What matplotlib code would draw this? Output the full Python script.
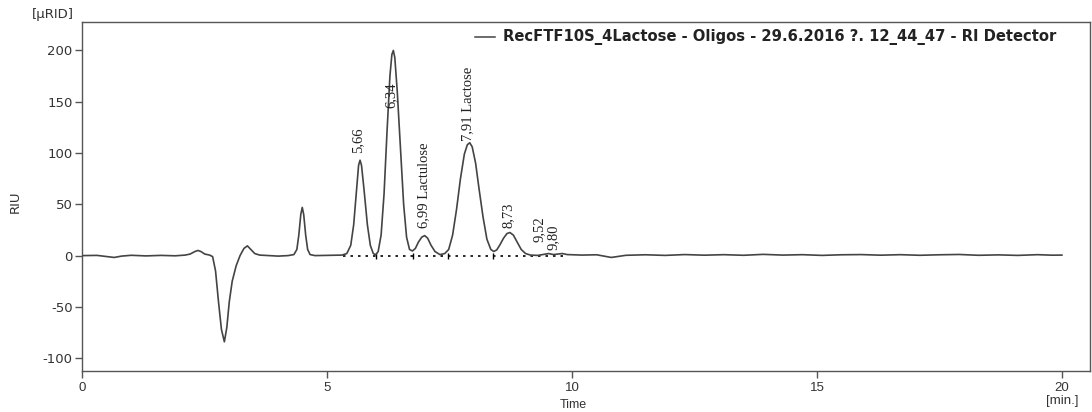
import matplotlib
matplotlib.use('Agg')
import matplotlib.pyplot as plt

# RI detector trace (time in min, signal in uRIU)
time = [0.00, 0.30, 0.50, 0.65, 0.80, 1.00, 1.30, 1.60, 1.90, 2.10, 2.20,
        2.30, 2.36, 2.42, 2.50, 2.60, 2.66, 2.72, 2.78, 2.84, 2.90, 2.95,
        3.00, 3.06, 3.14, 3.22, 3.30, 3.37, 3.44, 3.52, 3.62, 3.80, 4.00,
        4.20, 4.32, 4.38, 4.42, 4.46, 4.49, 4.52, 4.56, 4.60, 4.65, 4.75,
        5.00, 5.30, 5.40, 5.48, 5.54, 5.60, 5.64, 5.67, 5.70, 5.75, 5.82,
        5.88, 5.94, 5.99, 6.04, 6.10, 6.16, 6.22, 6.28, 6.32, 6.35, 6.38,
        6.43, 6.50, 6.56, 6.62, 6.68, 6.74, 6.80, 6.86, 6.93, 6.99, 7.05,
        7.12, 7.20, 7.30, 7.40, 7.48, 7.56, 7.64, 7.72, 7.80, 7.86, 7.91,
        7.96, 8.03, 8.10, 8.18, 8.26, 8.34, 8.40, 8.46, 8.52, 8.60, 8.67,
        8.73, 8.80, 8.88, 8.96, 9.05, 9.15, 9.30, 9.45, 9.52, 9.62, 9.72,
        9.80, 9.90, 10.2, 10.5, 10.8, 11.1, 11.5, 11.9, 12.3, 12.7, 13.1,
        13.5, 13.9, 14.3, 14.7, 15.1, 15.5, 15.9, 16.3, 16.7, 17.1, 17.5,
        17.9, 18.3, 18.7, 19.1, 19.5, 19.8, 20.0]
signal = [0.0, 0.2, -1.0, -1.8, -0.5, 0.3, -0.3, 0.2, -0.2, 0.5, 1.5,
          4.0, 5.0, 4.0, 1.5, 0.5, -1.0, -15, -45, -72, -84, -70,
          -45, -25, -10, 0, 7, 9.5, 6, 2, 0.5, 0, -0.5,
          0, 1, 6, 20, 40, 47, 40, 20, 6, 1, 0,
          0.2, 0.5, 2, 10, 30, 65, 88, 93, 88, 65, 30,
          10, 2, 0.8, 4, 20, 60, 120, 175, 196, 200, 193,
          160, 100, 50, 18, 6, 4.5, 7, 13, 18, 19.5, 17,
          10, 4, 1, 2, 6, 20, 45, 75, 99, 108, 110,
          106, 90, 65, 38, 16, 6, 4, 5.5, 10, 17, 21.5,
          22.5, 20, 13, 6, 2, 0.5, 0.2, 1.5, 2, 1, 1.5,
          2, 1, 0.5, 0.8, -1.8, 0.3, 0.8, 0.2, 1.0, 0.4, 0.9,
          0.3, 1.2, 0.5, 0.9, 0.2, 0.8, 1.0, 0.4, 0.9, 0.3, 0.8,
          1.1, 0.3, 0.7, 0.2, 0.9, 0.4, 0.5]

# peak annotations: label, label x, label bottom y
peak_labels = ['5,66', '6,34', '6,99 Lactulose', '7,91 Lactose', '8,73',
               '9,52', '9,80']
label_x = [5.62, 6.30, 6.96, 7.86, 8.70, 9.33, 9.61]
label_y = [100, 144, 27, 112, 27, 13, 5]

# integration baseline and boundaries
base_start, base_end = 5.33, 9.89
boundaries = [6.00, 6.75, 7.46, 8.38]

legend_text = 'RecFTF10S_4Lactose - Oligos - 29.6.2016 ?. 12_44_47 - RI Detector'

narrow = ['DejaVu Sans Condensed', 'Liberation Sans Narrow', 'Liberation Sans']


def main():
    plt.rcParams['axes.unicode_minus'] = False

    fig = plt.figure(figsize=(10.92, 4.12), dpi=100)
    ax = fig.add_axes([0.0754, 0.0995, 0.9226, 0.8478])

    line_color = '#444444'
    ax.plot(time, signal, color=line_color, linewidth=1.2, zorder=3)

    # dotted baseline under the integrated peaks
    ax.plot([base_start, base_end], [0, 0], color='black', linestyle=(0, (1.5, 3)),
            linewidth=1.2, zorder=2)
    ax.plot(boundaries, [0] * len(boundaries), linestyle='none', marker='|',
            markersize=4, color='black', zorder=2)

    for text, x, y in zip(peak_labels, label_x, label_y):
        ax.text(x, y, text, rotation=90, ha='center', va='bottom',
                family='Liberation Serif', fontsize=10.5, color='#222222',
                zorder=4)

    ax.set_xlim(0, 20.57)
    ax.set_ylim(-112.5, 228)
    ax.set_xticks([0, 5, 10, 15, 20])
    ax.set_yticks([-100, -50, 0, 50, 100, 150, 200])

    for side in ax.spines.values():
        side.set_color('#555555')
        side.set_linewidth(1.0)
    ax.tick_params(axis='both', direction='out', length=5, width=1.0,
                   color='#555555', labelcolor='#333333')
    ax.tick_params(axis='y', labelsize=9.5, pad=2)
    ax.tick_params(axis='x', labelsize=9.5, pad=3)
    for lbl in ax.get_xticklabels():
        lbl.set_family(narrow)
    for lbl in ax.get_yticklabels():
        lbl.set_family('DejaVu Sans')

    # axis titles and units
    fig.text(0.014, 0.51, 'RIU', rotation=90, ha='center', va='center',
             fontsize=9.5, color='#333333', family='DejaVu Sans')
    fig.text(0.048, 0.965, '[\u00b5RID]', ha='center', va='center',
             fontsize=9.5, color='#333333', family='DejaVu Sans')
    fig.text(0.525, 0.016, 'Time', ha='center', va='center',
             fontsize=9, color='#333333', family=narrow)
    fig.text(0.973, 0.027, '[min.]', ha='center', va='center',
             fontsize=9.5, color='#333333', family=narrow)

    # legend entry
    ax.plot([8.02, 8.42], [213, 213], color=line_color, linewidth=1.1)
    ax.text(8.59, 213, legend_text, ha='left', va='center', fontsize=10.6,
            fontweight='bold', family='DejaVu Sans', color='#222222')

    fig.savefig('out.png', dpi=100)


if __name__ == '__main__':
    main()
